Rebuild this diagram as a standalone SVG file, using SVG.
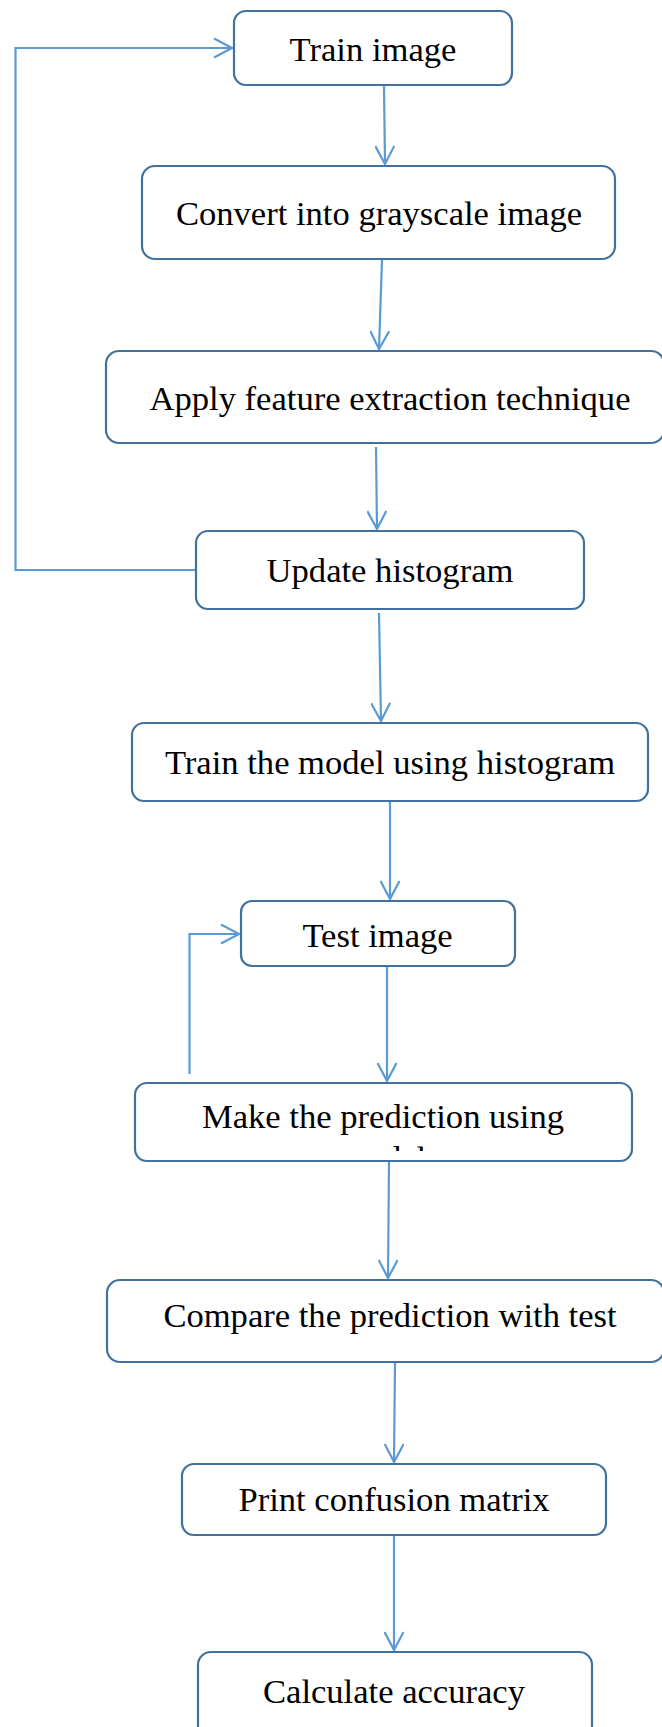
<svg xmlns="http://www.w3.org/2000/svg" width="662" height="1727" viewBox="0 0 662 1727">
<style>
.box{fill:#ffffff;stroke:#41719C;stroke-width:2.2}
.lbl{font-family:"Liberation Serif","Times New Roman",serif;font-size:34.6px;fill:#000000;text-anchor:middle}
.con{fill:none;stroke:#5B9BD5;stroke-width:2.2}
</style>
<defs>
<marker id="arr" viewBox="0 0 20 20" refX="19" refY="10" markerWidth="20" markerHeight="20" markerUnits="userSpaceOnUse" orient="auto">
<path d="M1,0.5 L19,10 L1,19.5" fill="none" stroke="#5B9BD5" stroke-width="2.2"/>
</marker>
<clipPath id="clipMake"><rect x="135" y="1083" width="497" height="68"/></clipPath>
</defs>
<rect width="662" height="1727" fill="#ffffff"/>
<g id="connectors">
<path class="con" d="M384,86 L385,164" marker-end="url(#arr)"/>
<path class="con" d="M382,260 L379,349" marker-end="url(#arr)"/>
<path class="con" d="M376,447 L377,529" marker-end="url(#arr)"/>
<path class="con" d="M379,613 L381,721" marker-end="url(#arr)"/>
<path class="con" d="M390,802 L390,899" marker-end="url(#arr)"/>
<path class="con" d="M387,967 L387,1081" marker-end="url(#arr)"/>
<path class="con" d="M389,1162 L388,1278" marker-end="url(#arr)"/>
<path class="con" d="M395,1363 L394,1462" marker-end="url(#arr)"/>
<path class="con" d="M394,1536 L394,1650" marker-end="url(#arr)"/>
<path class="con" d="M196,570 L15.5,570 L15.5,48 L232,48" marker-end="url(#arr)"/>
<path class="con" d="M189.5,1074 L189.5,934 L239,934" marker-end="url(#arr)"/>
</g>
<g id="n1"><rect class="box" x="234" y="11" width="278" height="74" rx="12"/><text class="lbl" x="373" y="61">Train image</text></g>
<g id="n2"><rect class="box" x="142" y="166" width="473" height="93" rx="13"/><text class="lbl" x="379" y="225">Convert into grayscale image</text></g>
<g id="n3"><rect class="box" x="106" y="351" width="558" height="92" rx="13"/><text class="lbl" x="390" y="410">Apply feature extraction technique</text></g>
<g id="n4"><rect class="box" x="196" y="531" width="388" height="78" rx="12"/><text class="lbl" x="390" y="582">Update histogram</text></g>
<g id="n5"><rect class="box" x="132" y="723" width="516" height="78" rx="12"/><text class="lbl" x="390" y="774">Train the model using histogram</text></g>
<g id="n6"><rect class="box" x="241" y="901" width="274" height="65" rx="11"/><text class="lbl" x="377.5" y="947">Test image</text></g>
<g id="n7"><rect class="box" x="135" y="1083" width="497" height="78" rx="12"/><g clip-path="url(#clipMake)"><text class="lbl" x="383" y="1128">Make the prediction using</text><text class="lbl" x="383" y="1170">model</text></g></g>
<g id="n8"><rect class="box" x="107" y="1280" width="557" height="82" rx="13"/><text class="lbl" x="390" y="1327">Compare the prediction with test</text></g>
<g id="n9"><rect class="box" x="182" y="1464" width="424" height="71" rx="12"/><text class="lbl" x="394" y="1511">Print confusion matrix</text></g>
<g id="n10"><rect class="box" x="198" y="1652" width="394" height="90" rx="13"/><text class="lbl" x="394" y="1703">Calculate accuracy</text></g>
</svg>
